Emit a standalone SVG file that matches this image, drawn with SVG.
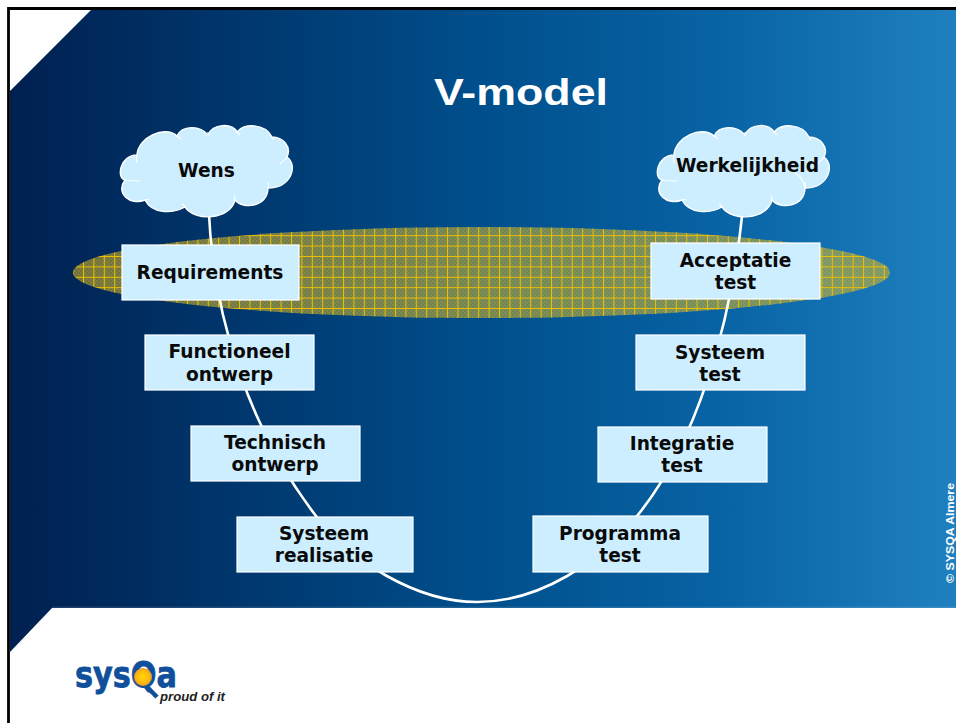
<svg xmlns="http://www.w3.org/2000/svg" width="956" height="723" viewBox="0 0 956 723">
<style>
.box{fill:#cceeff;stroke:#fff;stroke-width:1.2}
.cloud{fill:#cceeff;stroke:#fff;stroke-width:1.4}
.tick{fill:none;stroke:#fff;stroke-width:1.2}
.lbl{font-family:"DejaVu Sans",Verdana,sans-serif;font-weight:700;font-size:18.600px;fill:#0a0a0a;text-anchor:middle}
.conn{fill:none;stroke:#fff;stroke-width:2.6}
</style>
<defs>
<linearGradient id="bg" x1="10" x2="956" y1="0" y2="0" gradientUnits="userSpaceOnUse">
<stop offset="0" stop-color="#002050"/>
<stop offset="0.5" stop-color="#004f8c"/>
<stop offset="0.75" stop-color="#0863a4"/>
<stop offset="1" stop-color="#2080bf"/>
</linearGradient>
<pattern id="dither" width="4" height="4" patternUnits="userSpaceOnUse">
<rect width="4" height="4" fill="#d8b828" fill-opacity="0.52"/>
<rect width="2" height="2" fill="#d8b828" fill-opacity="0.16"/>
<rect x="2" y="2" width="2" height="2" fill="#d8b828" fill-opacity="0.16"/>
</pattern>
<pattern id="grid" x="83" y="256" width="10.400" height="10.400" patternUnits="userSpaceOnUse">
<path d="M.5 0V10.400M0 .5H10.400" stroke="#eec000" stroke-width="1" fill="none"/>
</pattern>
<radialGradient id="sun"><stop offset="0" stop-color="#ffd800"/><stop offset="0.7" stop-color="#fdb813"/><stop offset="1" stop-color="#e89a20"/></radialGradient>
<g id="cloudShape">
<path class="cloud" d="M137 155C138 137 165 125 177 136C182 125 200 125 208 135C213 123 232 123 237 132C243 123 265 123 272 137C283 137 292 147 287 157C298 165 292 188 268 188C268 207 243 210 235 200C230 220 195 222 185 207C172 214 152 214 145 200C130 206 115 193 125 180C116 178 120 155 137 155Z"/>
<path class="tick" d="M137 155Q136 159 137 163M125 180Q131 181 140 181M145 200Q147 200 149 199M185 207Q184 205 182 204M235 200Q235 198 234 196M268 188Q269 185 268 182M287 157Q284 161 280 164M272 137L274 140M237 132L240 135M237 132L234 129M208 135L208 132M177 136L181 139"/>
</g>
</defs>
<rect width="956" height="723" fill="#fff"/>
<path d="M8.500 723V8.500H956" fill="none" stroke="#000" stroke-width="2.800"/>
<rect x="10" y="10" width="946" height="598" fill="url(#bg)"/>
<rect x="52" y="606.500" width="904" height="1.500" fill="#fff" fill-opacity="0.12"/>
<path d="M10 10H91L10 91Z" fill="#fff"/>
<path d="M10 608H52L10 652Z" fill="url(#bg)"/>
<text x="434" y="105" font-family="'Liberation Sans',Arial,sans-serif" font-weight="700" font-size="37" fill="#fff" textLength="174" lengthAdjust="spacingAndGlyphs">V-model</text>
<g id="band">
<ellipse cx="481.500" cy="272.500" rx="408.500" ry="45.500" fill="url(#dither)"/>
<ellipse cx="481.500" cy="272.500" rx="408.500" ry="45.500" fill="url(#grid)"/>
</g>
<g id="connectors">
<path class="conn" d="M209 214C214 320 250 430 316 516C350 560 415 602 477 602C540 602 600 562 637 516C695 445 730 330 742 216"/>
</g>
<g id="wens"><use href="#cloudShape"/><text class="lbl" x="206.500" y="177">Wens</text></g>
<g id="werkelijkheid"><use href="#cloudShape" x="537"/><path class="tick" d="M805 188Q803 177 795 173"/><text class="lbl" x="747.500" y="172">Werkelijkheid</text></g>
<g id="requirements"><rect class="box" x="122" y="245" width="177" height="55"/><text class="lbl" x="210" y="279">Requirements</text></g>
<g id="functioneel"><rect class="box" x="145" y="335" width="169" height="55"/><text class="lbl" x="229.500" y="357.500">Functioneel</text><text class="lbl" x="229.500" y="381">ontwerp</text></g>
<g id="technisch"><rect class="box" x="191" y="426" width="169" height="55"/><text class="lbl" x="275" y="448.500">Technisch</text><text class="lbl" x="275" y="471">ontwerp</text></g>
<g id="realisatie"><rect class="box" x="237" y="517" width="176" height="55"/><text class="lbl" x="324" y="539.500">Systeem</text><text class="lbl" x="324" y="562">realisatie</text></g>
<g id="programma"><rect class="box" x="533" y="516" width="175" height="56"/><text class="lbl" x="620" y="539.500">Programma</text><text class="lbl" x="620" y="562">test</text></g>
<g id="integratie"><rect class="box" x="598" y="427" width="169" height="55"/><text class="lbl" x="682" y="449.500">Integratie</text><text class="lbl" x="682" y="472">test</text></g>
<g id="systeemtest"><rect class="box" x="636" y="335" width="169" height="55"/><text class="lbl" x="720" y="358.500">Systeem</text><text class="lbl" x="720" y="381">test</text></g>
<g id="acceptatie"><rect class="box" x="651" y="243" width="169" height="56"/><text class="lbl" x="735.500" y="266.500">Acceptatie</text><text class="lbl" x="735.500" y="289">test</text></g>
<text transform="translate(953.500 583) rotate(-90)" font-family="'Liberation Sans',Arial,sans-serif" font-weight="700" font-size="11.500" fill="#fff" textLength="100" lengthAdjust="spacingAndGlyphs">© SYSQA Almere</text>
<g id="logo">
<path d="M148 688L157 697" stroke="#0f4f9c" stroke-width="4.500" fill="none"/>
<text x="75" y="687" font-family="'DejaVu Sans',sans-serif" font-weight="700" font-size="35" fill="#0f4f9c" stroke="#0f4f9c" stroke-width="0.800" textLength="102" lengthAdjust="spacingAndGlyphs">sysQa</text>
<circle cx="143" cy="677" r="9" fill="url(#sun)"/>
<text x="160" y="701" font-family="'Liberation Sans',Arial,sans-serif" font-weight="700" font-style="italic" font-size="12.500" fill="#222" textLength="65" lengthAdjust="spacingAndGlyphs">proud of it</text>
</g>
</svg>
